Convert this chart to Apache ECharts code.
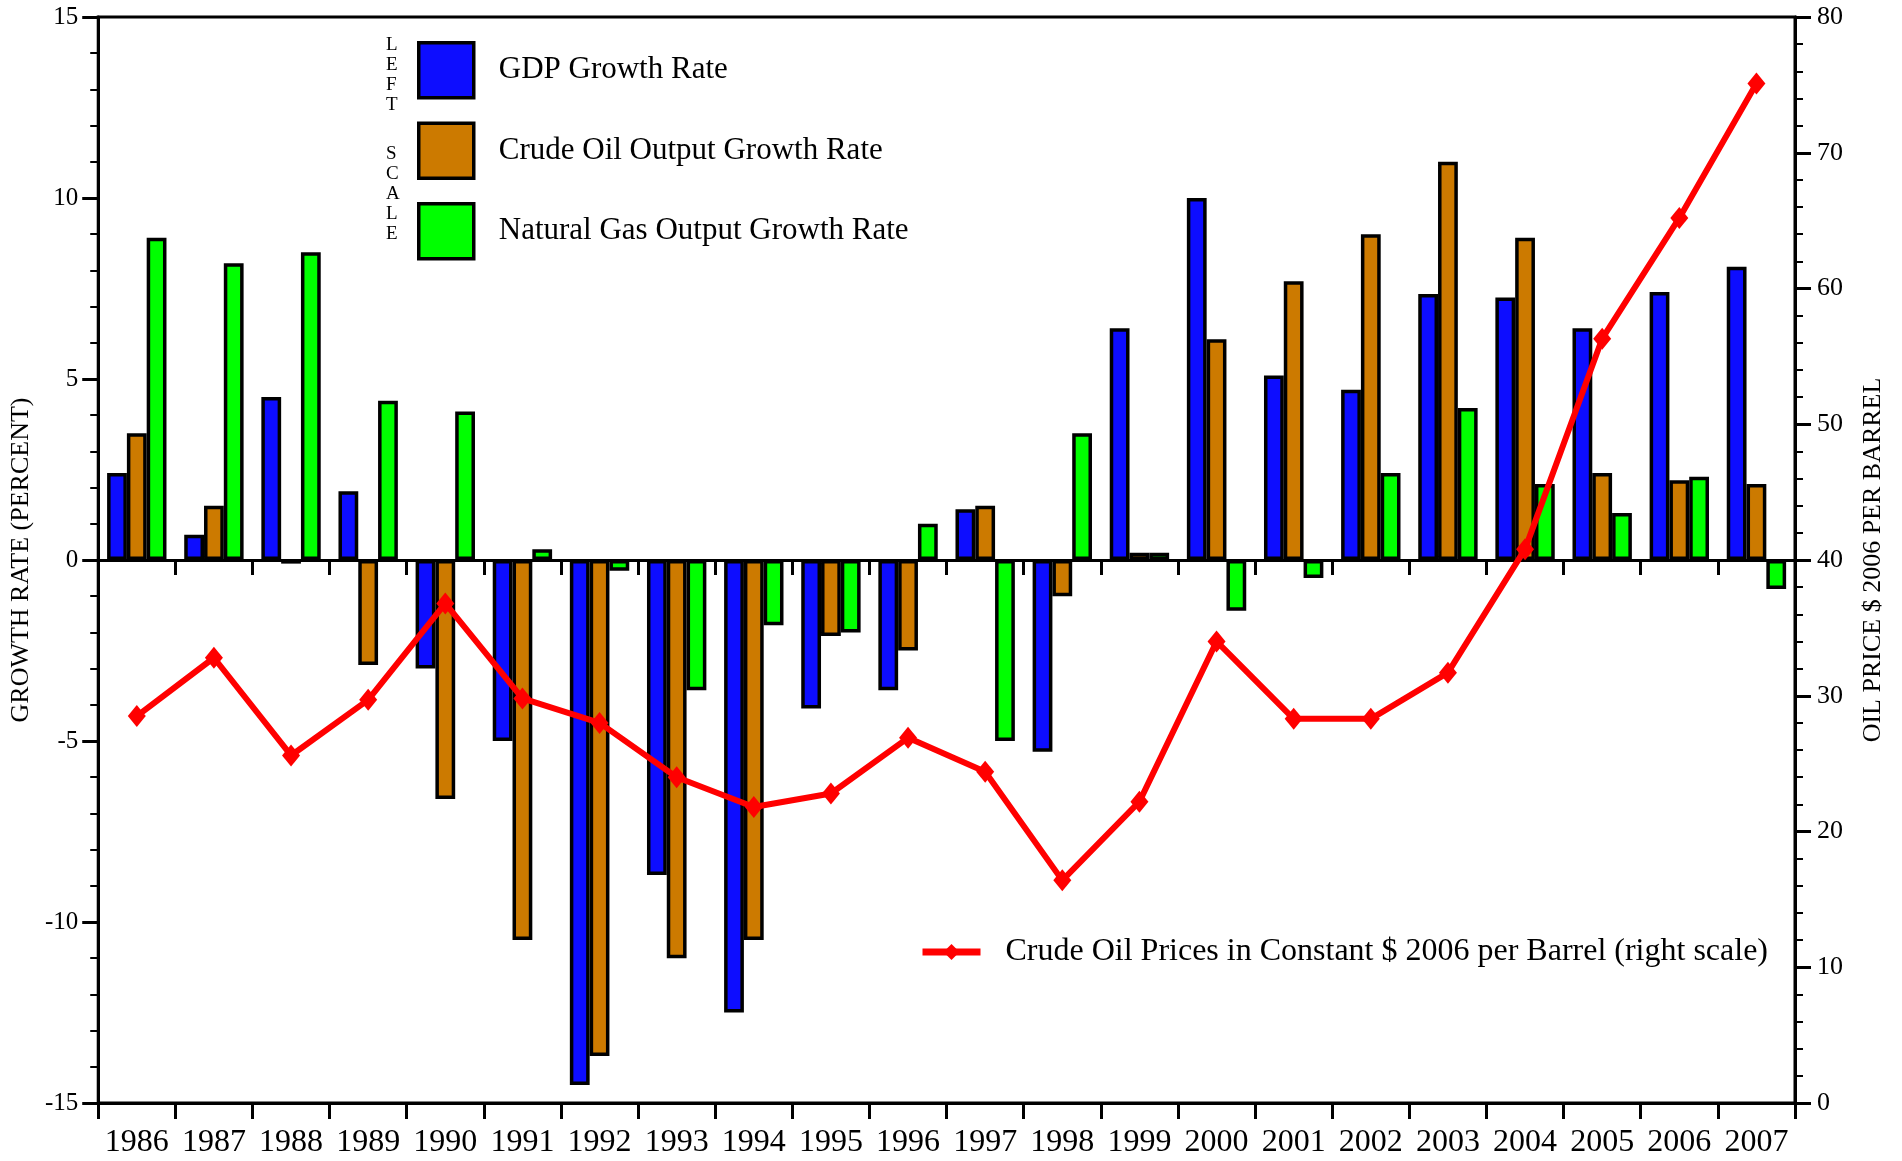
<!DOCTYPE html>
<html>
<head>
<meta charset="utf-8">
<script src="https://cdn.jsdelivr.net/npm/echarts@6/dist/echarts.min.js"></script>
<style>
  html, body { margin: 0; padding: 0; background: #fff; }
  #chart { width: 1902px; height: 1161px; }
</style>
</head>
<body>
<div id="chart"></div>
<script>
// years on the category axis
const years = ["1986", "1987", "1988", "1989", "1990", "1991", "1992", "1993", "1994", "1995", "1996",
  "1997", "1998", "1999", "2000", "2001", "2002", "2003", "2004", "2005", "2006", "2007"];

// left scale, percent
const gdpGrowth = [2.4, 0.7, 4.5, 1.9, -3.0, -5.0, -14.5, -8.7, -12.5, -4.1, -3.6,
  1.4, -5.3, 6.4, 10.0, 5.1, 4.7, 7.35, 7.25, 6.4, 7.4, 8.1];
const oilOutputGrowth = [3.5, 1.5, -0.1, -2.9, -6.6, -10.5, -13.7, -11.0, -10.5, -2.1, -2.5,
  1.5, -1.0, 0.2, 6.1, 7.7, 9.0, 11.0, 8.9, 2.4, 2.2, 2.1];
const gasOutputGrowth = [8.9, 8.2, 8.5, 4.4, 4.1, 0.3, -0.3, -3.6, -1.8, -2.0, 1.0,
  -5.0, 3.5, 0.2, -1.4, -0.5, 2.4, 4.2, 2.1, 1.3, 2.3, -0.8];

// right scale, $ 2006 per barrel
const oilPrice = [28.5, 32.8, 25.6, 29.7, 36.8, 29.8, 28.0, 24.0, 21.8, 22.8, 26.9,
  24.4, 16.4, 22.2, 34.0, 28.3, 28.3, 31.7, 40.8, 56.3, 65.2, 75.1];

const serif = "Liberation Serif";
const barBorder = { borderColor: "#000", borderWidth: 3.5 };

const chart = echarts.init(document.getElementById("chart"));
chart.setOption({
  animation: false,
  backgroundColor: "#fff",
  textStyle: { fontFamily: serif, color: "#000" },
  grid: {
    left: 98, right: 107, top: 17, bottom: 58,
    show: true, borderColor: "#000", borderWidth: 3
  },
  legend: [
    {
      data: ["GDP Growth Rate", "Crude Oil Output Growth Rate", "Natural Gas Output Growth Rate"],
      orient: "vertical",
      left: 417, top: 41, padding: 0,
      icon: "rect",
      itemWidth: 55, itemHeight: 55, itemGap: 22,
      itemStyle: { borderColor: "#000", borderWidth: 3.5 },
      textStyle: { fontFamily: serif, fontSize: 31, color: "#000", padding: [0, 0, 0, 20] }
    },
    {
      data: ["Crude Oil Prices in Constant $ 2006 per Barrel (right scale)"],
      left: 919, top: 936, padding: 0,
      itemWidth: 58, itemHeight: 20,
      lineStyle: { width: 7 },
      textStyle: { fontFamily: serif, fontSize: 32, color: "#000", padding: [0, 0, 0, 20] }
    }
  ],
  xAxis: [
    {
      type: "category",
      data: years,
      position: "bottom",
      axisLine: { onZero: false, lineStyle: { color: "#000", width: 3 } },
      axisTick: { show: true, interval: 0, alignWithLabel: false, length: 16, lineStyle: { color: "#000", width: 3 } },
      axisLabel: { interval: 0, fontFamily: serif, fontSize: 32, color: "#000", margin: 24 },
      splitLine: { show: false }
    },
    {
      type: "category",
      data: years,
      position: "bottom",
      axisLine: { onZero: true, onZeroAxisIndex: 0, lineStyle: { color: "#000", width: 3 } },
      axisTick: { show: true, interval: 0, alignWithLabel: false, length: 15, lineStyle: { color: "#000", width: 3 } },
      axisLabel: { show: false, interval: 0 },
      splitLine: { show: false }
    }
  ],
  yAxis: [
    {
      type: "value",
      min: -15, max: 15, interval: 5,
      name: "GROWTH RATE (PERCENT)",
      nameLocation: "middle", nameRotate: 90, nameGap: 62,
      nameTextStyle: { fontFamily: serif, fontSize: 26, color: "#000" },
      axisLine: { show: true, lineStyle: { color: "#000", width: 3 } },
      axisTick: { show: true, length: 16, lineStyle: { color: "#000", width: 3 } },
      minorTick: { show: true, splitNumber: 5, length: 8, lineStyle: { color: "#000", width: 2 } },
      axisLabel: { fontFamily: serif, fontSize: 25, color: "#000", margin: 20 },
      splitLine: { show: false }
    },
    {
      type: "value",
      min: 0, max: 80, interval: 10,
      position: "right",
      name: "OIL PRICE $ 2006 PER BARREL",
      nameLocation: "middle", nameRotate: 90, nameGap: 65,
      nameTextStyle: { fontFamily: serif, fontSize: 26, color: "#000" },
      axisLine: { show: true, lineStyle: { color: "#000", width: 3 } },
      axisTick: { show: true, length: 16, lineStyle: { color: "#000", width: 3 } },
      minorTick: { show: true, splitNumber: 5, length: 8, lineStyle: { color: "#000", width: 2 } },
      axisLabel: { fontFamily: serif, fontSize: 26, color: "#000", margin: 22 },
      splitLine: { show: false }
    }
  ],
  series: [
    {
      name: "GDP Growth Rate", type: "bar", data: gdpGrowth,
      barGap: "0%", barCategoryGap: "23%",
      itemStyle: { color: "#0d0dff", ...barBorder }
    },
    {
      name: "Crude Oil Output Growth Rate", type: "bar", data: oilOutputGrowth,
      itemStyle: { color: "#cc7a00", ...barBorder }
    },
    {
      name: "Natural Gas Output Growth Rate", type: "bar", data: gasOutputGrowth,
      itemStyle: { color: "#00ff00", ...barBorder }
    },
    {
      name: "Crude Oil Prices in Constant $ 2006 per Barrel (right scale)",
      type: "line", yAxisIndex: 1, data: oilPrice,
      symbol: "diamond", symbolSize: [18, 22],
      lineStyle: { color: "#ff0000", width: 6 },
      itemStyle: { color: "#ff0000" },
      z: 5
    }
  ],
  graphic: [
    {
      type: "text", left: 386, top: 35,
      style: { text: "L\nE\nF\nT", fontFamily: serif, fontSize: 19, lineHeight: 20, fill: "#000", align: "center" }
    },
    {
      type: "text", left: 386, top: 144,
      style: { text: "S\nC\nA\nL\nE", fontFamily: serif, fontSize: 19, lineHeight: 20, fill: "#000", align: "center" }
    }
  ]
});
</script>
</body>
</html>
